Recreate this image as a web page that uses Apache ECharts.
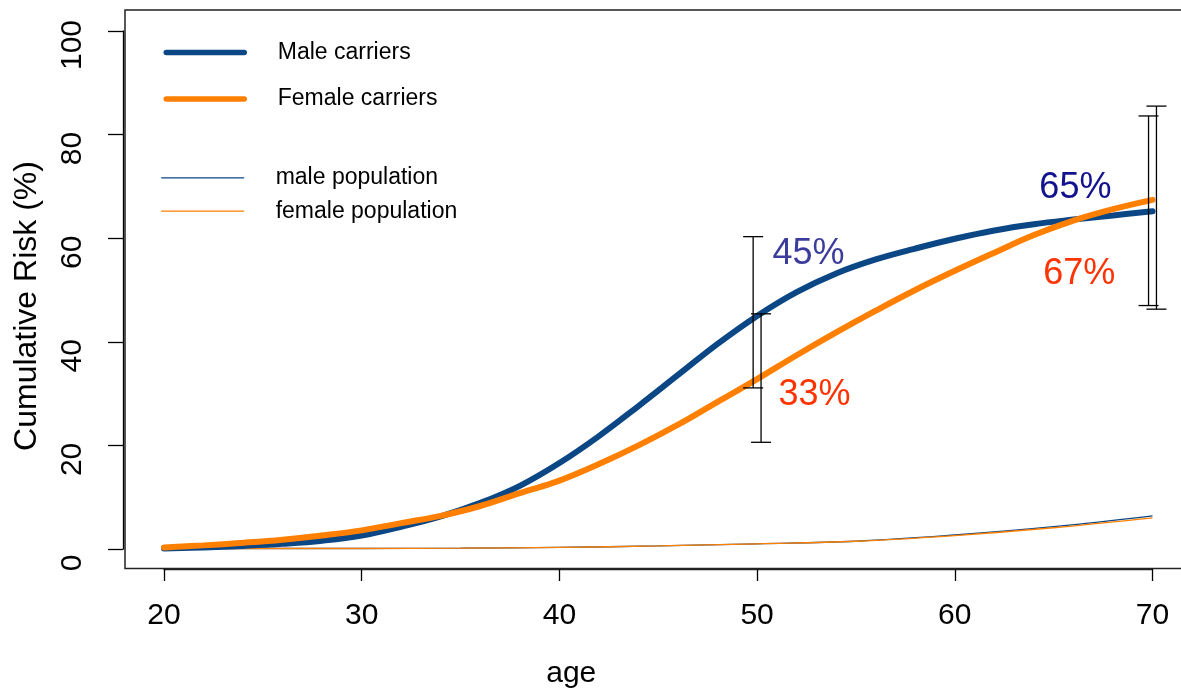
<!DOCTYPE html>
<html>
<head>
<meta charset="utf-8">
<script src="https://cdn.jsdelivr.net/npm/echarts@6/dist/echarts.min.js"></script>
<style>html,body{margin:0;padding:0;background:#fff}#c{width:1181px;height:689px}</style>
</head>
<body>
<div id="c"></div>
<script>
// ---- data ----
const ages = [20,22,24,26,28,30,32,34,36,38,40,42,44,46,48,50,52,54,56,58,60,62,64,66,68,70];
const maleCarriers   = [0.1,0.3,0.6,1.0,1.6,2.6,4.3,6.3,8.9,12.2,16.6,21.8,27.6,33.6,39.6,45.0,49.6,53.2,55.9,58.0,59.9,61.5,62.7,63.6,64.4,65.2];
const femaleCarriers = [0.3,0.7,1.2,1.8,2.6,3.6,5.0,6.4,8.3,10.8,13.2,16.4,20.0,24.0,28.4,32.8,37.4,41.8,46.0,50.0,53.7,57.2,60.6,63.4,65.6,67.4];
const popAges   = [20,25,30,35,40,45,50,55,60,65,70];
const malePop   = [0.1,0.1,0.1,0.15,0.3,0.6,1.0,1.5,2.7,4.3,6.4];
const femalePop = [0.1,0.1,0.1,0.15,0.3,0.6,1.0,1.5,2.6,4.1,6.0];
const maleErrAge  = [49.8, 69.8];
const maleErrLow  = [31.1, 47.0];
const maleErrHigh = [60.3, 83.6];
const femaleErrAge  = [50.2, 70.2];
const femaleErrLow  = [20.6, 46.3];
const femaleErrHigh = [45.4, 85.5];
const labelText = ['45%','33%','65%','67%'];
const labelAge  = [52.6, 52.9, 66.1, 66.3];
const labelRisk = [57.0, 29.8, 69.6, 53.0];
const xTicks = [20,30,40,50,60,70];
const yTicks = [0,20,40,60,80,100];

// ---- styles ----
const FONT = '"Liberation Sans", Arial, sans-serif';
const BLUE = '#0b4785';
const ORANGE = '#ff8000';
const labelColors = ['#3c3c9c','#ff3300','#12128e','#ff3300'];

const zip = (xs, ys) => xs.map((x, i) => [x, ys[i]]);
const errData = (a, l, h) => a.map((x, i) => [x, l[i], h[i]]);

function renderErr(params, api) {
  const x = api.value(0), lo = api.value(1), hi = api.value(2);
  const pLo = api.coord([x, lo]), pHi = api.coord([x, hi]);
  const w = 10;
  const st = {stroke:'#000', lineWidth:1.3};
  return {type:'group', children:[
    {type:'line', shape:{x1:pLo[0], y1:pLo[1], x2:pHi[0], y2:pHi[1]}, style:st},
    {type:'line', shape:{x1:pLo[0]-w, y1:pLo[1], x2:pLo[0]+w, y2:pLo[1]}, style:st},
    {type:'line', shape:{x1:pHi[0]-w, y1:pHi[1], x2:pHi[0]+w, y2:pHi[1]}, style:st}
  ]};
}

function mkLegend(name, left, top, iw, width, pad) {
  return {
    data:[name], orient:'vertical', left:left, top:top, padding:0,
    itemWidth:iw, itemHeight:14, selectedMode:false,
    itemStyle:{opacity:0, borderWidth:0},
    lineStyle:{width:width, cap:'round'},
    textStyle:{fontSize:23, fontFamily:FONT, color:'#000', lineHeight:14, padding:pad}
  };
}

const chart = echarts.init(document.getElementById('c'), null, {renderer:'canvas'});
chart.setOption({
  animation: false,
  backgroundColor: '#fff',
  grid: {left:164, right:28.5, top:31, bottom:140, outerBoundsMode:'none', containLabel:false},
  graphic: [{
    type:'rect', silent:true, z:0,
    shape:{x:125, y:10, width:1100, height:558.5},
    style:{fill:'none', stroke:'#222', lineWidth:1.5}
  }],
  legend: [
    mkLegend('Male carriers', 163.5, 38.4, 78, 5.5, [0,0,14,28.5]),
    mkLegend('Female carriers', 163.5, 85, 78, 5.5, [0,0,14,28.5]),
    mkLegend('male population', 161, 166.3, 82, 1.3, [4,0,0,27]),
    mkLegend('female population', 161, 199.7, 82, 1.3, [4,0,0,27])
  ],
  xAxis: {
    type:'value', min:20, max:70, interval:10, offset:20,
    name:'age', nameLocation:'middle', nameGap:90,
    nameTextStyle:{fontSize:30, fontFamily:FONT, color:'#000', padding:[0,174,0,0]},
    axisLine:{show:true, onZero:false, lineStyle:{color:'#222', width:1.3}},
    axisTick:{show:true, length:12, lineStyle:{color:'#000', width:1.3}},
    axisLabel:{fontSize:30, fontFamily:FONT, color:'#000', margin:32, lineHeight:30,
      customValues: xTicks},
    splitLine:{show:false}
  },
  yAxis: {
    type:'value', min:0, max:100, interval:20, offset:41,
    name:'Cumulative Risk (%)', nameLocation:'middle', nameGap:81, nameRotate:90,
    nameTextStyle:{fontSize:32, fontFamily:FONT, color:'#000', lineHeight:30, padding:[0,32,0,0]},
    axisLine:{show:true, onZero:false, lineStyle:{color:'#000', width:1.3}},
    axisTick:{show:true, length:15, lineStyle:{color:'#000', width:1.3}},
    axisLabel:{fontSize:30, fontFamily:FONT, color:'#000', rotate:90, margin:35, lineHeight:30,
      padding:[0,28,0,0], customValues: yTicks},
    splitLine:{show:false}
  },
  series: [
    {name:'Male carriers', type:'line', data:zip(ages, maleCarriers), smooth:0.4, symbol:'none',
     lineStyle:{color:BLUE, width:6, cap:'round'}, itemStyle:{color:BLUE}, silent:true, z:3},
    {name:'Female carriers', type:'line', data:zip(ages, femaleCarriers), smooth:0.4, symbol:'none',
     lineStyle:{color:ORANGE, width:6, cap:'round'}, itemStyle:{color:ORANGE}, silent:true, z:4},
    {name:'male population', type:'line', data:zip(popAges, malePop), smooth:0.4, symbol:'none',
     lineStyle:{color:BLUE, width:1.3}, itemStyle:{color:BLUE}, silent:true, z:2},
    {name:'female population', type:'line', data:zip(popAges, femalePop), smooth:0.4, symbol:'none',
     lineStyle:{color:ORANGE, width:1.3}, itemStyle:{color:ORANGE}, silent:true, z:2},
    {name:'maleErr', type:'custom', data:errData(maleErrAge, maleErrLow, maleErrHigh),
     renderItem:renderErr, encode:{x:0, y:[1,2]}, silent:true, z:5},
    {name:'femaleErr', type:'custom', data:errData(femaleErrAge, femaleErrLow, femaleErrHigh),
     renderItem:renderErr, encode:{x:0, y:[1,2]}, silent:true, z:5},
    {name:'labels', type:'scatter', symbolSize:1, silent:true, z:6,
     itemStyle:{color:'#ffffff', opacity:1},
     data: labelText.map((t, i) => ({name:t, value:[labelAge[i], labelRisk[i]],
       label:{show:true, position:'inside', formatter:t, color:labelColors[i], opacity:1,
              fontSize:36, fontFamily:FONT}}))}
  ]
});
</script>
</body>
</html>
